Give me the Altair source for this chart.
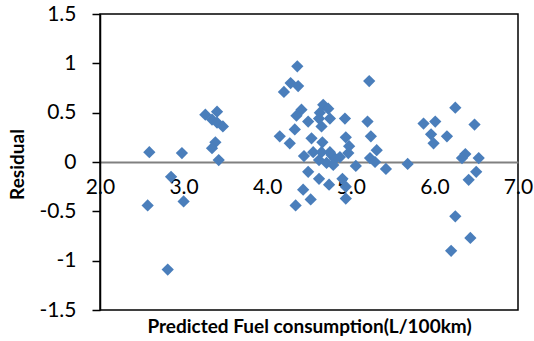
import altair as alt
import pandas as pd

predicted = [
    2.59, 2.98, 2.85, 2.57, 3.00, 2.81, 3.26, 3.40, 3.34, 3.40, 3.47, 3.38, 3.34, 3.42,
    4.36, 4.28, 4.37, 4.20, 5.22, 4.67, 4.73, 4.41, 4.35, 4.63, 4.75, 4.62, 4.49, 4.93,
    5.20, 4.33, 4.65, 4.15, 4.27, 4.53, 4.66, 4.94, 5.24, 4.98, 5.31, 4.55, 4.44, 5.23,
    4.77, 4.87, 4.97, 4.62, 4.71, 4.81, 5.29, 5.06, 4.79, 4.49, 4.62, 4.74, 4.90, 4.94,
    4.43, 4.52, 4.34, 4.94, 4.65, 4.75,
    5.42, 5.68, 5.87, 6.01, 5.96, 5.99, 6.15, 6.25, 6.48, 6.37, 6.33, 6.53, 6.50, 6.41,
    6.25, 6.43, 6.20,
]
residual = [
    0.10, 0.09, -0.15, -0.44, -0.40, -1.09, 0.48, 0.51, 0.43, 0.40, 0.36, 0.20, 0.14, 0.02,
    0.97, 0.80, 0.77, 0.71, 0.82, 0.58, 0.54, 0.53, 0.47, 0.50, 0.44, 0.44, 0.41, 0.44,
    0.41, 0.33, 0.36, 0.26, 0.19, 0.24, 0.20, 0.25, 0.26, 0.16, 0.12, 0.10, 0.06, 0.04,
    0.07, 0.05, 0.09, 0.02, -0.01, 0.03, 0.00, -0.04, -0.03, -0.10, -0.17, -0.23, -0.17, -0.25,
    -0.28, -0.38, -0.44, -0.37, 0.10, 0.10,
    -0.07, -0.02, 0.39, 0.41, 0.28, 0.19, 0.26, 0.55, 0.38, 0.08, 0.04, 0.04, -0.10, -0.18,
    -0.55, -0.77, -0.90,
]
x_ticks = [2.0, 3.0, 4.0, 5.0, 6.0, 7.0]
y_ticks = [-1.5, -1.0, -0.5, 0.0, 0.5, 1.0, 1.5]

df = pd.DataFrame({"pred": predicted, "res": residual})

FONT = "Lato"

chart = alt.Chart(df).mark_point(
    shape="diamond", filled=True, size=150, opacity=1, color="#4A7EBB"
).encode(
    x=alt.X(
        "pred:Q",
        scale=alt.Scale(domain=[2, 7], nice=False, zero=False),
        axis=alt.Axis(
            values=x_ticks,
            format=".1f",
            offset=-148,
            grid=False,
            ticks=False,
            domainColor="#808080",
            domainWidth=2,
            labelFlush=False,
            labelPadding=14,
            labelFontSize=21,
            labelColor="black",
            labelFont=FONT,
            title="Predicted Fuel consumption(L/100km)",
            titleFont=FONT,
            titleFontSize=19,
            titleFontWeight="bold",
            titleColor="black",
            titleY=164,
            titleBaseline="middle",
        ),
    ),
    y=alt.Y(
        "res:Q",
        scale=alt.Scale(domain=[-1.5, 1.5], nice=False, zero=False),
        axis=alt.Axis(
            values=y_ticks,
            labelExpr="toString(datum.value)",
            grid=False,
            domainColor="black",
            domainWidth=1.5,
            tickColor="black",
            tickWidth=1.5,
            tickSize=8,
            labelPadding=16,
            labelFontSize=21,
            labelColor="black",
            labelFont=FONT,
            title="Residual",
            titleFont=FONT,
            titleFontSize=19,
            titleFontWeight="bold",
            titleColor="black",
            titleX=-83,
            titleY=150,
            titleAlign="center",
            titleBaseline="middle",
        ),
    ),
).properties(
    width=418,
    height=296,
    background="white",
    autosize=alt.AutoSizeParams(type="none"),
    padding={"left": 100, "top": 14, "right": 16, "bottom": 31},
).configure_view(
    stroke="black", strokeWidth=1.5
)

chart.save("out.html", embed_options={"renderer": "svg", "actions": False})
